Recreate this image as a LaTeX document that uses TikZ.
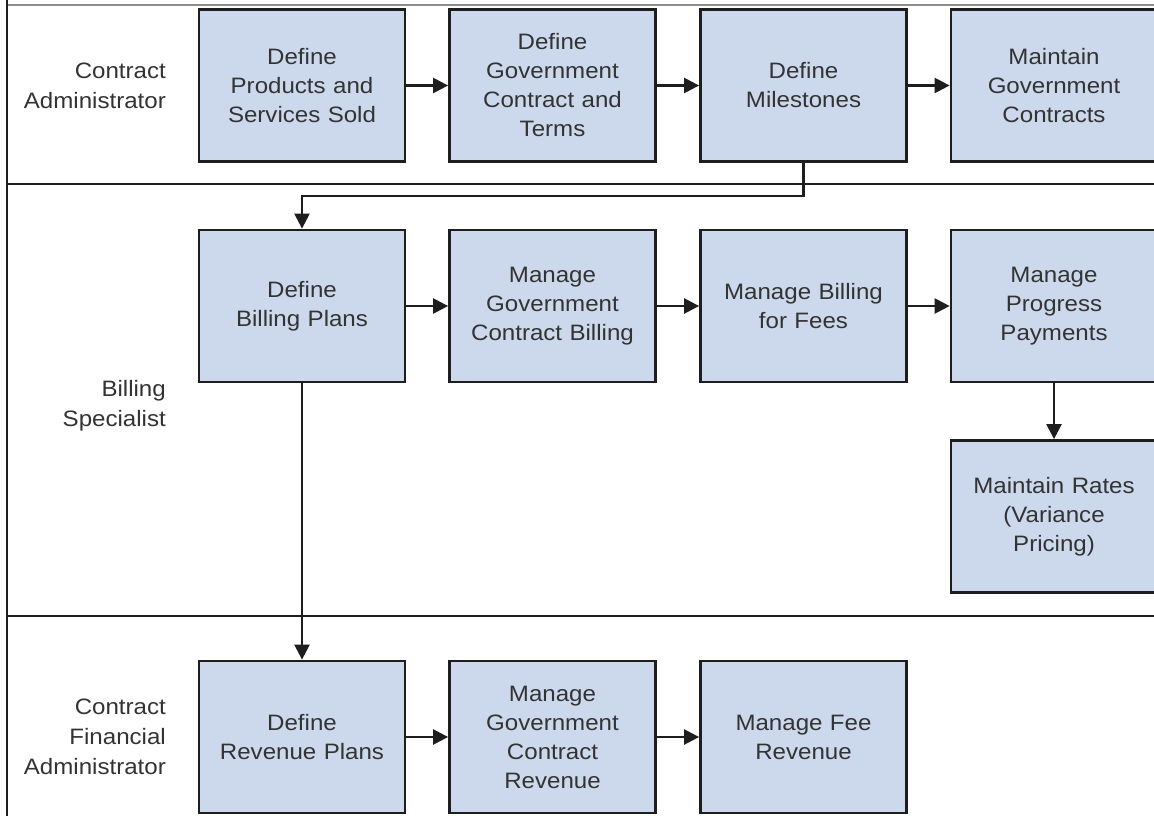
\documentclass[tikz,border=0pt]{standalone}
\usepackage{fontspec}
\setmainfont[FakeStretch=1.08]{Liberation Sans}
\usetikzlibrary{arrows.meta}
\definecolor{boxfill}{HTML}{CCD8EB}
\definecolor{boxline}{HTML}{1E1E1E}
\definecolor{txt}{HTML}{333333}
\begin{document}
\begin{tikzpicture}[x=1pt,y=-1pt,
  stepbox/.style={draw=boxline,fill=boxfill,line width=2.8pt,minimum width=206pt,minimum height=152pt,
    inner sep=0pt,text width=200pt,align=center,text=txt,font=\fontsize{22.3}{29}\selectfont},
  lanelabel/.style={anchor=east,align=right,text=txt,inner sep=0pt,font=\fontsize{22.3}{30}\selectfont},
  arr/.style={line width=2.4pt,draw=boxline,-{Triangle[length=15pt,width=15pt]}},
  sep/.style={line width=2.6pt,draw=boxline}]
\useasboundingbox (0,0) rectangle (1154,816);
\fill[white] (0,0) rectangle (1154,816);
% frame
\draw[line width=1.5pt,draw=black!45] (7,5) -- (1154,5);
\draw[line width=2pt,draw=boxline] (7,0) -- (7,816);
\coordinate (s1l) at (7,184); \coordinate (s1r) at (1160,184);
\coordinate (s2l) at (7,616); \coordinate (s2r) at (1160,616);
\draw[sep] (s1l) -- (s1r);
\draw[sep] (s2l) -- (s2r);
% lane labels
\node[lanelabel] (l1) at (166,86) {Contract\\Administrator};
\node[lanelabel] (l2) at (166,406) {Billing\\Specialist};
\node[lanelabel] (l3) at (166,737) {Contract\\Financial\\Administrator};
% row 1
\node[stepbox] (a1) at (302,85.5) {Define\\Products and\\Services Sold};
\node[stepbox] (a2) at (552.5,85.5) {Define\\Government\\Contract and\\Terms};
\node[stepbox] (a3) at (803.5,85.5) {Define\\Milestones};
\node[stepbox] (a4) at (1054,85.5) {Maintain\\Government\\Contracts};
% row 2
\node[stepbox] (b1) at (302,306) {Define\\Billing Plans};
\node[stepbox] (b2) at (552.5,306) {Manage\\Government\\Contract Billing};
\node[stepbox] (b3) at (803.5,306) {Manage Billing\\for Fees};
\node[stepbox] (b4) at (1054,306) {Manage\\Progress\\Payments};
\node[stepbox] (b5) at (1054,516.5) {Maintain Rates\\(Variance\\Pricing)};
% row 3
\node[stepbox] (c1) at (302,737) {Define\\Revenue Plans};
\node[stepbox] (c2) at (552.5,737) {Manage\\Government\\Contract\\Revenue};
\node[stepbox] (c3) at (803.5,737) {Manage Fee\\Revenue};
% connectors
\draw[arr] (a1) -- (a2);
\draw[arr] (a2) -- (a3);
\draw[arr] (a3) -- (a4);
\coordinate (elb) at (0,196);
\draw[arr] (a3.south) -- (a3.south |- elb) -| (b1.north);
\draw[arr] (b1) -- (b2);
\draw[arr] (b2) -- (b3);
\draw[arr] (b3) -- (b4);
\draw[arr] (b4) -- (b5);
\draw[arr] (b1) -- (c1);
\draw[arr] (c1) -- (c2);
\draw[arr] (c2) -- (c3);
\end{tikzpicture}
\end{document}
